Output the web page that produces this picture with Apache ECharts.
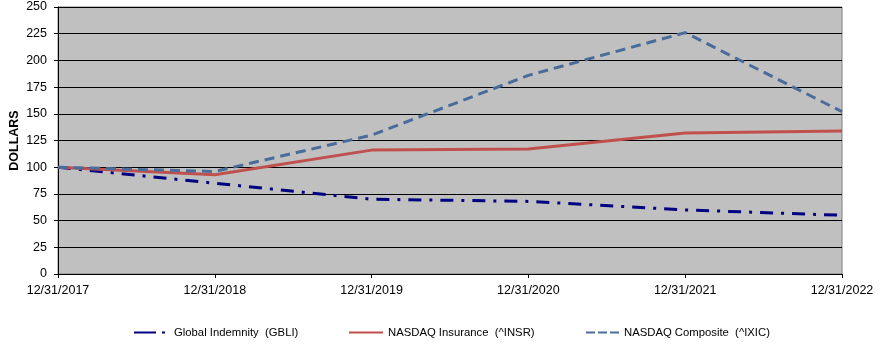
<!DOCTYPE html>
<html><head><meta charset="utf-8">
<script src="https://cdn.jsdelivr.net/npm/echarts@6/dist/echarts.min.js"></script>
<style>html,body{margin:0;padding:0;background:#fff}#c{width:880px;height:352px}</style>
</head><body><div id="c"></div>
<script>
const categories = ['12/31/2017','12/31/2018','12/31/2019','12/31/2020','12/31/2021','12/31/2022'];
const gbli = [100, 85, 70, 68, 60, 55];
const insr = [100, 93, 116, 117, 132, 134];
const ixic = [100, 96, 130, 186, 226, 152];
const names = ['Global Indemnity  (GBLI)', 'NASDAQ Insurance  (^INSR)', 'NASDAQ Composite  (^IXIC)'];

const chart = echarts.init(document.getElementById('c'));
const font = 'Liberation Sans, Arial, sans-serif';
const legText = {fontFamily: font, fontSize: 11.3, color: '#000'};
chart.setOption({
  animation: false,
  grid: {left: 58, right: 38, top: 7, bottom: 78, show: true, backgroundColor: '#C0C0C0', borderColor: '#808080', borderWidth: 1,
         containLabel: false, outerBoundsMode: 'none'},
  legend: [
    {data: [names[0]], left: 133, top: 327, padding: 0, itemWidth: 35, itemHeight: 12, textStyle: legText,
     itemStyle: {opacity: 0}, lineStyle: {type: [22, 6, 3, 20]}},
    {data: [names[1]], left: 348, top: 327, padding: 0, itemWidth: 34, itemHeight: 12, textStyle: legText,
     itemStyle: {opacity: 0}},
    {data: [names[2]], left: 585, top: 327, padding: 0, itemWidth: 33, itemHeight: 12, textStyle: legText,
     itemStyle: {opacity: 0}, lineStyle: {type: [9, 3]}}
  ],
  xAxis: {
    type: 'category', data: categories, boundaryGap: false,
    axisLine: {lineStyle: {color: '#000', width: 1}},
    axisTick: {show: true, length: 4, lineStyle: {color: '#000'}},
    axisLabel: {fontFamily: font, fontSize: 12.5, color: '#000', margin: 10, interval: 0},
    splitLine: {show: false}
  },
  yAxis: {
    type: 'value', min: 0, max: 250, interval: 25,
    name: 'DOLLARS', nameLocation: 'middle', nameGap: 37, nameRotate: 90, nameMoveOverlap: false,
    nameTextStyle: {fontFamily: font, fontSize: 12.5, fontWeight: 'bold', color: '#000'},
    axisLine: {show: true, lineStyle: {color: '#000', width: 1}},
    axisTick: {show: true, length: 4, lineStyle: {color: '#000'}},
    axisLabel: {fontFamily: font, fontSize: 12.5, color: '#000', margin: 11},
    splitLine: {show: true, lineStyle: {color: '#000', width: 1}}
  },
  series: [
    {name: names[0], type: 'line', data: gbli, symbol: 'none', color: '#000080',
     lineStyle: {color: '#000080', width: 3, type: [13, 8, 3, 8]}},
    {name: names[1], type: 'line', data: insr, symbol: 'none', color: '#C0504D',
     lineStyle: {color: '#C0504D', width: 3, type: 'solid'}},
    {name: names[2], type: 'line', data: ixic, symbol: 'none', color: '#4A6C9B',
     lineStyle: {color: '#4A6C9B', width: 3, type: [10, 6]}}
  ]
});
</script></body></html>
